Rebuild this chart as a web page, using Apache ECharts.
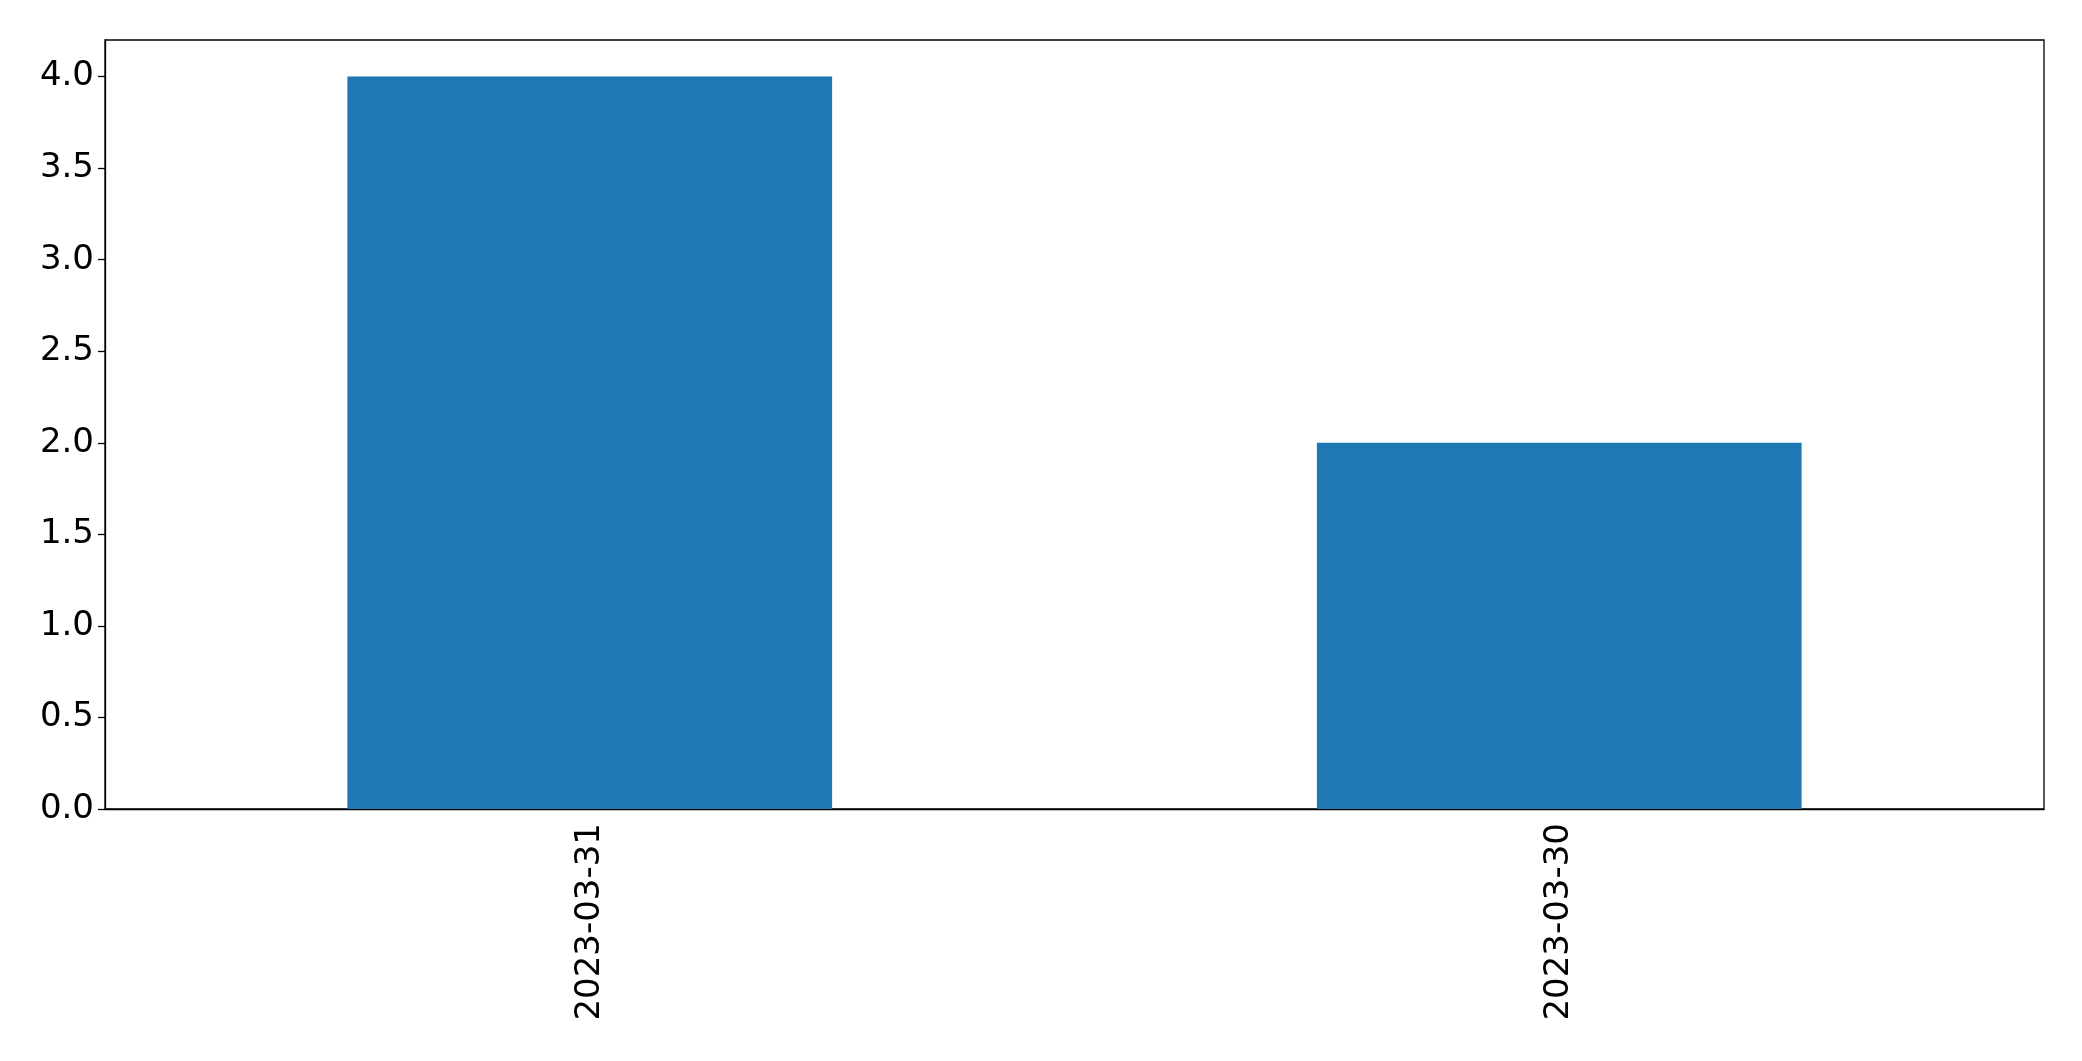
<!DOCTYPE html>
<html>
<head>
<meta charset="utf-8">
<script src="https://cdn.jsdelivr.net/npm/echarts@6/dist/echarts.min.js"></script>
<style>
	html, body { margin: 0; padding: 0; background: #fff; }
	#chart { width: 2082px; height: 1061px; }
</style>
</head>
<body>
<div id="chart"></div>
<script>
// data
var dates = ['2023-03-31', '2023-03-30'];
var counts = [4, 2];
var yTicks = [0, 0.5, 1, 1.5, 2, 2.5, 3, 3.5, 4];

var chart = echarts.init(document.getElementById("chart"));
var option = {
	backgroundColor: '#ffffff',
	animation: false,
	grid: {
		left: 105,
		right: 38,
		top: 40,
		bottom: 252,
		show: true,
		borderColor: '#000',
		borderWidth: 1.3
	},
	xAxis: {
		type: 'category',
		data: dates,
		axisLine: { lineStyle: { color: '#000', width: 1.3 } },
		axisTick: { alignWithLabel: true, length: 7, lineStyle: { color: '#000', width: 1.3 } },
		axisLabel: {
			rotate: 90,
			margin: 14,
			color: '#000',
			fontSize: 34,
			fontFamily: 'DejaVu Sans'
		}
	},
	yAxis: {
		type: 'value',
		min: 0,
		max: 4.2,
		interval: 0.5,
		splitLine: { show: false },
		axisLine: { show: true, lineStyle: { color: '#000', width: 1.3 } },
		axisTick: { show: true, length: 7, customValues: yTicks, lineStyle: { color: '#000', width: 1.3 } },
		axisLabel: {
			customValues: yTicks,
			margin: 11,
			color: '#000',
			fontSize: 34,
			fontFamily: 'DejaVu Sans',
			formatter: function (v) { return v.toFixed(1); }
		}
	},
	series: [
		{
			type: 'bar',
			data: counts,
			barWidth: '50%',
			itemStyle: { color: '#1f77b4' }
		}
	]
};
chart.setOption(option);
</script>
</body>
</html>
